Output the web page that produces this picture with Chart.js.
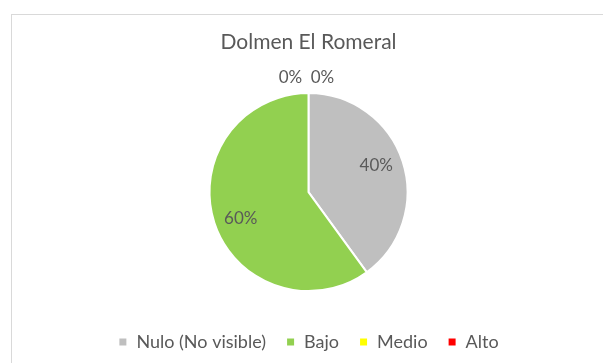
<!DOCTYPE html>
<html>
<head>
<meta charset="utf-8">
<script src="https://cdn.jsdelivr.net/npm/chart.js@4"></script>
<style>
  html, body { margin: 0; padding: 0; background: #fff; }
  #wrap { position: relative; width: 603px; height: 363px; overflow: hidden; }
  #frame { position: absolute; left: 11px; top: 14px; width: 600px; height: 360px; border: 1px solid #D9D9D9; }
  #chart { position: absolute; left: 0; top: 0; }
</style>
</head>
<body>
<div id="wrap">
  <div id="frame"></div>
  <canvas id="chart" width="603" height="363"></canvas>
</div>
<script>
const categories = ['Nulo (No visible)', 'Bajo', 'Medio', 'Alto'];
const values = [40, 60, 0, 0];
const colors = ['#BFBFBF', '#92D050', '#FFFF00', '#FF0000'];
const textColor = '#595959';
const fontFamily = 'Lato, "Liberation Sans", sans-serif';

// percentage labels: inside for real slices, above the pie for empty ones
const pctLabels = {
  id: 'pctLabels',
  afterDatasetsDraw(chart) {
    const ctx = chart.ctx;
    const meta = chart.getDatasetMeta(0);
    const total = values.reduce((a, b) => a + b, 0);
    ctx.save();
    ctx.font = '17px ' + fontFamily;
    ctx.fillStyle = textColor;
    ctx.textAlign = 'center';
    ctx.textBaseline = 'middle';
    const empty = [];
    meta.data.forEach((arc, i) => {
      const p = arc.getProps(['x', 'y', 'startAngle', 'endAngle', 'outerRadius']);
      const txt = Math.round(values[i] / total * 100) + '%';
      if (values[i] === 0) {
        empty.push({ p, txt });
        return;
      }
      const mid = (p.startAngle + p.endAngle) / 2;
      const r = p.outerRadius * 0.72;
      ctx.fillText(txt, p.x + Math.cos(mid) * r, p.y + Math.sin(mid) * r * 1.2);
    });
    const step = 32;
    empty.forEach((e, k) => {
      const off = (k - (empty.length - 1) / 2) * step - 2;
      ctx.fillText(e.txt, e.p.x + off, e.p.y - e.p.outerRadius - 16);
    });
    ctx.restore();
  }
};

new Chart(document.getElementById('chart'), {
  type: 'pie',
  data: {
    labels: categories,
    datasets: [{
      data: values,
      backgroundColor: colors,
      borderColor: '#ffffff',
      borderWidth: 2
    }]
  },
  options: {
    responsive: false,
    animation: false,
    radius: 99,
    layout: { padding: { left: 14, right: 0, top: 0, bottom: 2 } },
    plugins: {
      title: {
        display: true,
        text: 'Dolmen El Romeral',
        color: textColor,
        font: { family: fontFamily, size: 21, weight: 'normal' },
        padding: { top: 30, bottom: 16 }
      },
      legend: {
        position: 'bottom',
        labels: {
          color: textColor,
          font: { family: fontFamily, size: 18 },
          boxWidth: 9,
          boxHeight: 9,
          padding: 20
        }
      },
      tooltip: { enabled: false }
    }
  },
  plugins: [pctLabels]
});
</script>
</body>
</html>
